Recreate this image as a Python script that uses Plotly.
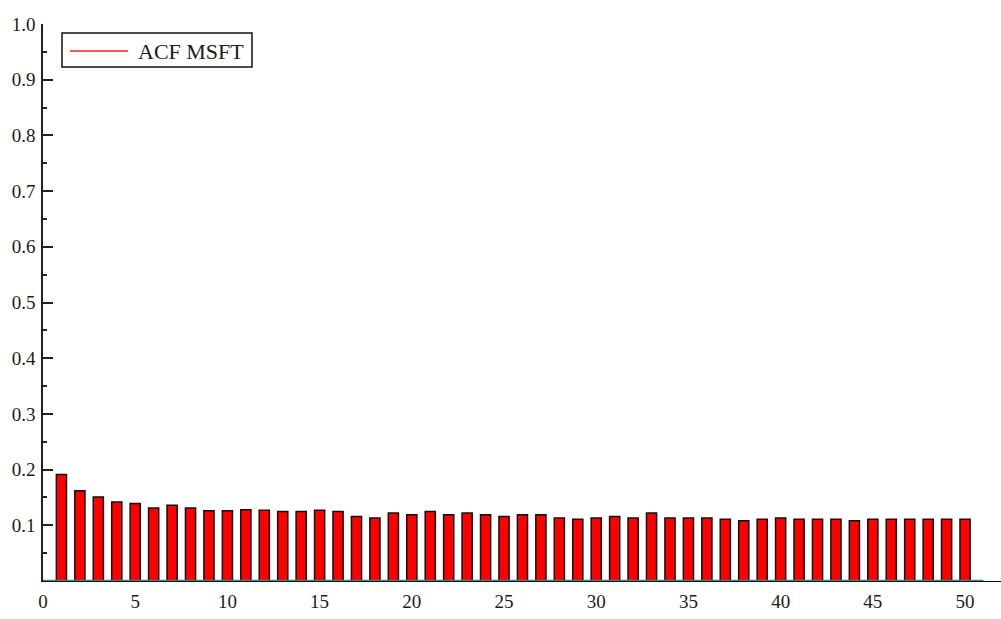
import plotly.graph_objects as go

# Autocorrelation of MSFT returns by lag
lags = list(range(1, 51))
acf_msft = [
    0.191, 0.162, 0.151, 0.142, 0.139, 0.131, 0.136, 0.131, 0.126, 0.126,
    0.128, 0.127, 0.125, 0.125, 0.127, 0.125, 0.116, 0.113, 0.122, 0.119,
    0.125, 0.119, 0.122, 0.119, 0.116, 0.119, 0.119, 0.113, 0.111, 0.113,
    0.116, 0.113, 0.122, 0.113, 0.113, 0.113, 0.111, 0.108, 0.111, 0.113,
    0.111, 0.111, 0.111, 0.108, 0.111, 0.111, 0.111, 0.111, 0.111, 0.111,
]
x_ticks = [0, 5, 10, 15, 20, 25, 30, 35, 40, 45, 50]
y_ticks = [0.1, 0.2, 0.3, 0.4, 0.5, 0.6, 0.7, 0.8, 0.9, 1.0]
y_tick_text = ["0.1", "0.2", "0.3", "0.4", "0.5", "0.6", "0.7", "0.8", "0.9", "1.0"]
series_name = "ACF MSFT"

SERIF = "Liberation Serif, Times New Roman, serif"
TEXT = "#1c1c1c"

fig = go.Figure()
fig.add_trace(go.Bar(
    x=lags, y=acf_msft, width=0.55,
    marker=dict(color="#ff0000", line=dict(color="#111111", width=1.5)),
    showlegend=False,
))

fig.update_layout(
    width=1001, height=619,
    margin=dict(l=43, r=0, t=24, b=38),
    paper_bgcolor="white", plot_bgcolor="white",
    showlegend=False,
    font=dict(family=SERIF, size=19, color=TEXT),
)
fig.update_xaxes(
    range=[0, 51.95], showgrid=False, zeroline=False,
    showline=True, linecolor="#111111", linewidth=1,
    tickvals=x_ticks, ticks="", ticklabelstandoff=3,
    tickfont=dict(family=SERIF, size=19, color=TEXT),
)
fig.update_yaxes(
    range=[0, 1], showgrid=False, zeroline=False,
    showline=True, linecolor="#222222", linewidth=1.5,
    tickvals=y_ticks, ticktext=y_tick_text,
    ticks="inside", ticklen=10, tickwidth=1.5, tickcolor="#222222",
    ticklabelstandoff=2,
    minor=dict(tickvals=[0.05 + 0.1 * i for i in range(10)],
               ticks="inside", ticklen=4, tickwidth=1.5, tickcolor="#222222"),
    tickfont=dict(family=SERIF, size=19, color=TEXT),
)

# teal baseline under the bars
fig.add_shape(type="line", xref="x", yref="y", x0=0, x1=51, y0=0, y1=0,
              line=dict(color="#2e8b8b", width=2.5), layer="above")

# legend box with a line sample
fig.add_shape(type="rect", xref="paper", yref="paper",
              x0=(62 - 43) / 958, x1=(252 - 43) / 958,
              y0=(581 - 67) / 557, y1=(581 - 33) / 557,
              line=dict(color="#111111", width=1.5), fillcolor="white")
fig.add_shape(type="line", xref="paper", yref="paper",
              x0=(70 - 43) / 958, x1=(128 - 43) / 958,
              y0=(581 - 51) / 557, y1=(581 - 51) / 557,
              line=dict(color="#ff2020", width=1.5))
fig.add_annotation(xref="paper", yref="paper",
                   x=(136 - 43) / 958, y=(581 - 51) / 557,
                   xanchor="left", yanchor="middle", showarrow=False,
                   text=series_name, font=dict(family=SERIF, size=22, color=TEXT))

fig.write_html("out.html")
